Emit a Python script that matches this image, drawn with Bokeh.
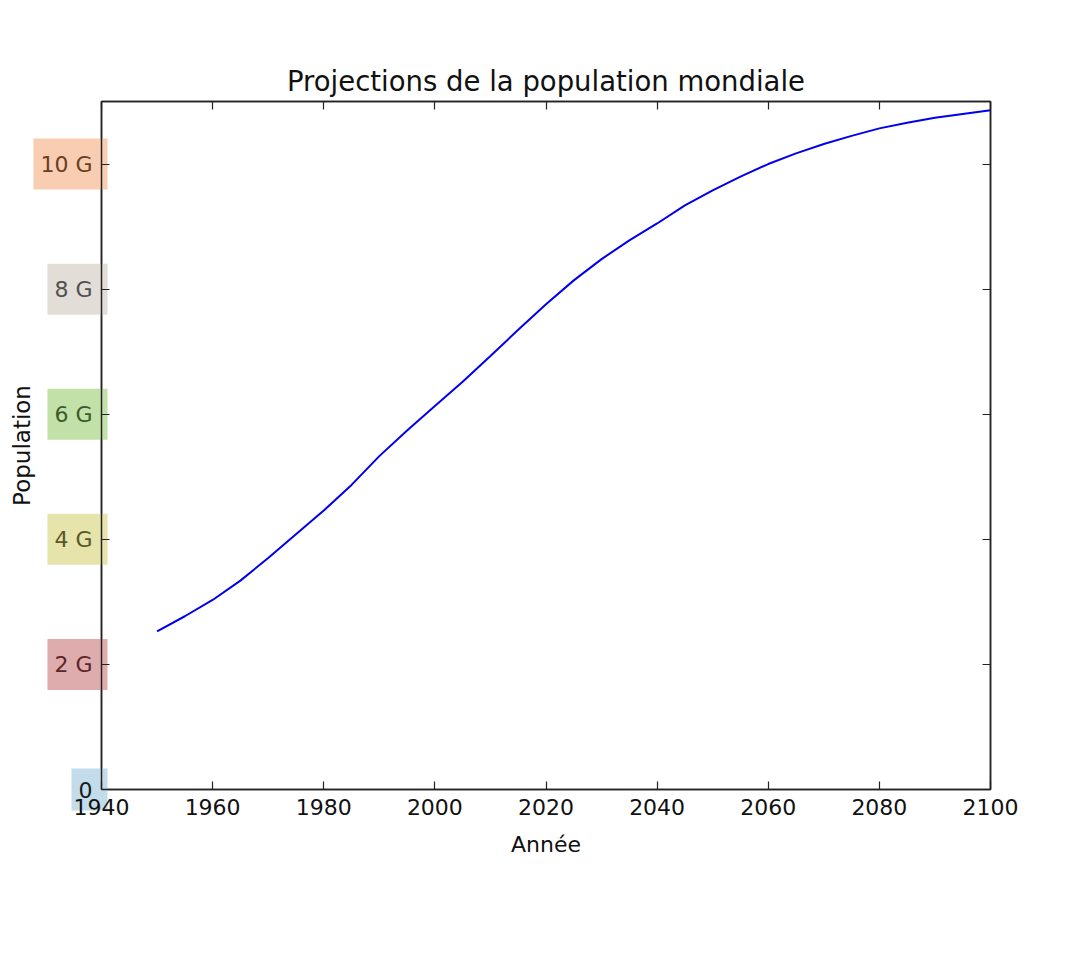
from bokeh.plotting import figure
from bokeh.models import Range1d, FixedTicker, LinearAxis, ColumnDataSource
from bokeh.core.properties import value
from bokeh.embed import file_html
from bokeh.resources import INLINE

years = [1950, 1955, 1960, 1965, 1970, 1975, 1980, 1985, 1990, 1995, 2000,
         2005, 2010, 2015, 2020, 2025, 2030, 2035, 2040, 2045, 2050,
         2055, 2060, 2065, 2070, 2075, 2080, 2085, 2090, 2095, 2100]
population_g = [2.53, 2.77, 3.03, 3.34, 3.70, 4.08, 4.46, 4.87, 5.33, 5.74, 6.13,
                6.52, 6.93, 7.35, 7.76, 8.14, 8.48, 8.78, 9.05, 9.34, 9.58,
                9.80, 10.00, 10.17, 10.32, 10.45, 10.57, 10.66, 10.74, 10.80, 10.86]

x_ticks = [1940, 1960, 1980, 2000, 2020, 2040, 2060, 2080, 2100]
y_ticks = [0, 2, 4, 6, 8, 10]
y_tick_labels = ["0", "2 G", "4 G", "6 G", "8 G", "10 G"]
y_label_box_colors = ["#c2dceb", "#dfacae", "#e6e3ab", "#c2e1a8", "#e3ddd7", "#f8cdb2"]
y_label_text_colors = ["#1a1a1a", "#5a2626", "#5a582a", "#3a5a2a", "#505050", "#6b3e22"]

FONT = "DejaVu Sans"
AX = "#222222"

p = figure(frame_width=889, frame_height=688,
           min_border_left=101, min_border_top=101, min_border_right=78, min_border_bottom=170,
           x_range=Range1d(1940, 2100), y_range=Range1d(0, 11),
           output_backend="svg", toolbar_location=None,
           title="Projections de la population mondiale")

p.title.align = "center"
p.title.text_font = FONT
p.title.text_font_size = "27.5px"
p.title.text_font_style = "normal"
p.title.text_color = "#111111"
p.title.standoff = 9

p.grid.visible = False
p.outline_line_color = AX
p.outline_line_width = 1.5

src = ColumnDataSource(dict(year=years, pop=population_g))
p.line("year", "pop", source=src, line_color="#0000ee", line_width=2)

def style_axis(ax, ticks):
    ax.ticker = FixedTicker(ticks=ticks)
    ax.major_tick_in = 8
    ax.major_tick_out = 0
    ax.minor_tick_in = 0
    ax.minor_tick_out = 0
    ax.axis_line_color = AX
    ax.axis_line_width = 1.5
    ax.major_tick_line_color = AX
    ax.major_tick_line_width = 1.2

xa = p.xaxis[0]
style_axis(xa, x_ticks)
xa.major_label_text_font = FONT
xa.major_label_text_font_size = "22px"
xa.major_label_text_color = "#111111"
xa.major_label_standoff = 9
xa.axis_label = "Année"
xa.axis_label_text_font = FONT
xa.axis_label_text_font_size = "22px"
xa.axis_label_text_font_style = "normal"
xa.axis_label_text_color = "#111111"
xa.axis_label_standoff = 14

ya = p.yaxis[0]
style_axis(ya, y_ticks)
ya.major_label_text_color = None
ya.major_label_text_font_size = "1px"
ya.major_label_standoff = 0
ya.axis_label = "Population"
ya.axis_label_text_font = FONT
ya.axis_label_text_font_size = "23px"
ya.axis_label_text_font_style = "normal"
ya.axis_label_text_color = "#111111"
ya.axis_label_standoff = 67

ra = LinearAxis()
style_axis(ra, y_ticks)
ra.major_label_text_color = None
ra.major_label_text_font_size = "1px"
p.add_layout(ra, "right")

ta = LinearAxis()
style_axis(ta, x_ticks)
ta.major_label_text_color = None
ta.major_label_text_font_size = "1px"
p.add_layout(ta, "above")

# coloured y tick labels, drawn at guide level so they are not clipped to the frame
lab_src = ColumnDataSource(dict(
    x=[x_ticks[0]] * len(y_ticks), y=y_ticks, text=y_tick_labels,
    bc=y_label_box_colors, tc=y_label_text_colors))
p.text(x="x", y="y", text="text", source=lab_src, level="guide",
       x_offset=6, text_align="right", text_baseline="middle",
       text_font=value(FONT), text_font_size="22px", text_color="tc",
       background_fill_color="bc", background_fill_alpha=1.0,
       padding=(7, 15, 13, 13))

open("out.html", "w").write(file_html(p, INLINE))
